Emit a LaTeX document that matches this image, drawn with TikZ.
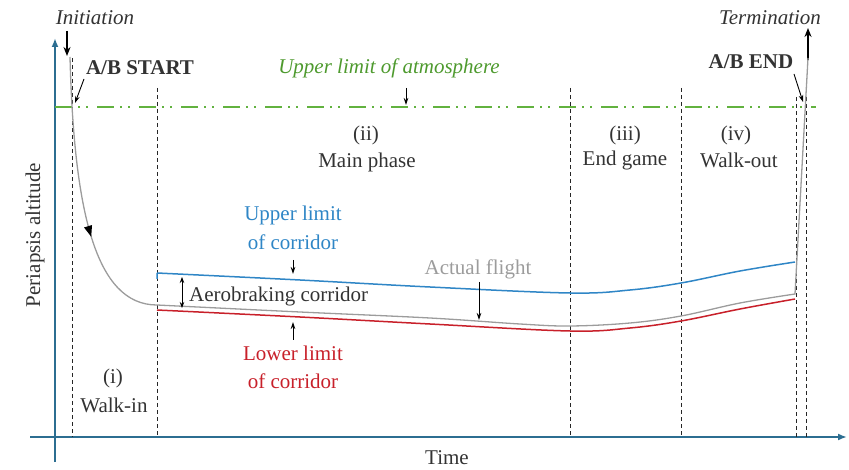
\documentclass[tikz,border=0pt]{standalone}
\usepackage{fontspec}
\setmainfont{Liberation Serif}
\usetikzlibrary{arrows.meta,decorations.markings}
\definecolor{axiscol}{HTML}{2C6E91}
\definecolor{atmgreen}{HTML}{62B23F}
\definecolor{atmtext}{HTML}{4E9A2E}
\definecolor{upblue}{HTML}{2F86C6}
\definecolor{lowred}{HTML}{C8202A}
\definecolor{flightgray}{HTML}{9C9C9C}
\definecolor{txt}{HTML}{333333}
\begin{document}
\begin{tikzpicture}[x=1pt,y=-1pt,
  every node/.style={font=\fontsize{21}{25}\selectfont, inner sep=0pt, text=txt},
  axisline/.style={draw=axiscol, line width=2.4pt, -{Latex[length=9pt,width=7pt]}},
  phaseline/.style={draw=black!85, line width=0.9pt, dash pattern=on 4pt off 3pt},
  atmline/.style={draw=atmgreen, line width=1.4pt, dash pattern=on 17pt off 6pt on 2pt off 6pt on 2pt off 9pt},
  pointer/.style={draw=black, line width=0.9pt, -{Stealth[length=7pt,width=4.5pt]}},
  bigarrow/.style={draw=black, line width=1.8pt, -{Stealth[length=9pt,width=7pt]}},
  flight/.style={draw=flightgray, line width=1.3pt},
  upper/.style={draw=upblue, line width=1.5pt},
  lower/.style={draw=lowred, line width=1.5pt},
  phaselabel/.style={align=center}
]
\useasboundingbox (0,0) rectangle (849,470);

% axes
\coordinate (ybot) at (55,462);
\coordinate (ytop) at (55,38);
\coordinate (xleft) at (30,437);
\coordinate (xright) at (847,437);
\draw[axisline] (ybot) -- (ytop);
\draw[axisline] (xleft) -- (xright);
\node[rotate=90] (ylab) at (35,235) {Periapsis altitude};
\node[anchor=base] (xlab) at (447,464) {Time};

% phase lines
\coordinate (d1t) at (72,58);  \coordinate (d1b) at (72,437);
\coordinate (d2t) at (157,88); \coordinate (d2b) at (157,437);
\coordinate (d3t) at (570,88); \coordinate (d3b) at (570,437);
\coordinate (d4t) at (681,88); \coordinate (d4b) at (681,437);
\coordinate (d5t) at (796,97); \coordinate (d5b) at (796,437);
\coordinate (d6t) at (806,97); \coordinate (d6b) at (806,437);
\foreach \i in {1,...,6} {\draw[phaseline] (d\i t) -- (d\i b);}

% atmosphere line
\coordinate (atmL) at (55,107);
\coordinate (atmR) at (816,107);
\draw[atmline] (atmL) -- (atmR);
\node[text=atmtext, font=\fontsize{21}{25}\selectfont\itshape] (atm) at (389,68) {Upper limit of atmosphere};
\coordinate (atmP1) at (406,88); \coordinate (atmP2) at (406,105);
\draw[pointer] (atmP1) -- (atmP2);

% initiation / termination
\node[font=\fontsize{21}{25}\selectfont\itshape] (init) at (95,18) {Initiation};
\coordinate (initA) at (67,31); \coordinate (initB) at (67,56);
\draw[bigarrow] (initA) -- (initB);
\node[font=\fontsize{21}{25}\selectfont\itshape] (term) at (770,18) {Termination};
\coordinate (termA) at (808,60); \coordinate (termB) at (808,28);
\draw[bigarrow] (termA) -- (termB);

\node[font=\fontsize{21}{25}\selectfont\bfseries] (abs) at (140,68) {A/B START};
\coordinate (absA) at (84,79); \coordinate (absB) at (75,103);
\draw[pointer] (absA) -- (absB);
\node[font=\fontsize{21}{25}\selectfont\bfseries] (abe) at (751,62) {A/B END};
\coordinate (abeA) at (794,74); \coordinate (abeB) at (803,102);
\draw[pointer] (abeA) -- (abeB);

% phase labels
\node (p1a) at (113,378) {(i)};
\node (p1b) at (114,405) {Walk-in};
\node (p2a) at (366,135) {(ii)};
\node (p2b) at (367,162) {Main phase};
\node (p3a) at (625,135) {(iii)};
\node (p3b) at (625,160) {End game};
\node (p4a) at (736,135) {(iv)};
\node (p4b) at (739,160) {Walk-out};

% corridor
\draw[upper] (157,279) -- (157,273)
  plot[smooth, tension=0.6] coordinates {(157,273) (300,280) (430,287) (570,293) (630,290) (681,283) (740,271) (795,262)};
\draw[lower] plot[smooth, tension=0.6] coordinates {(157,310) (300,317) (430,324) (570,331) (630,328) (681,321) (740,309) (795,299)};

% actual flight
\coordinate (f0) at (70,57);
\coordinate (f1) at (157,305);
\draw[flight, decoration={markings, mark=at position 0.64 with {\arrow[black]{Triangle[length=11pt,width=8pt]}}}, postaction=decorate]
  (f0) .. controls (74,210) and (95,305) .. (f1);
\draw[flight] plot[smooth, tension=0.6] coordinates {(157,305) (300,312) (430,318) (520,324) (570,326) (630,323) (681,316) (740,303) (795,294)}
  -- (808,58);

% corridor labels
\node[text=upblue, phaselabel] (upl1) at (293,215) {Upper limit};
\node[text=upblue] (upl2) at (293,242) {of corridor};
\coordinate (upA) at (293,260); \coordinate (upB) at (293,274);
\draw[pointer] (upA) -- (upB);

\node[text=lowred] (lol1) at (293,353) {Lower limit};
\node[text=lowred] (lol2) at (293,381) {of corridor};
\coordinate (loA) at (293,340); \coordinate (loB) at (293,322);
\draw[pointer] (loA) -- (loB);

\coordinate (corA) at (182,277); \coordinate (corB) at (182,308);
\draw[draw=black, line width=0.9pt, {Stealth[length=6pt,width=4.5pt]}-{Stealth[length=6pt,width=4.5pt]}] (corA) -- (corB);
\node[anchor=west] (cor) at (189,296) {Aerobraking corridor};

\node[text=flightgray] (af) at (478,269) {Actual flight};
\coordinate (afA) at (479,282); \coordinate (afB) at (479,320);
\draw[pointer] (afA) -- (afB);
\end{tikzpicture}
\end{document}
